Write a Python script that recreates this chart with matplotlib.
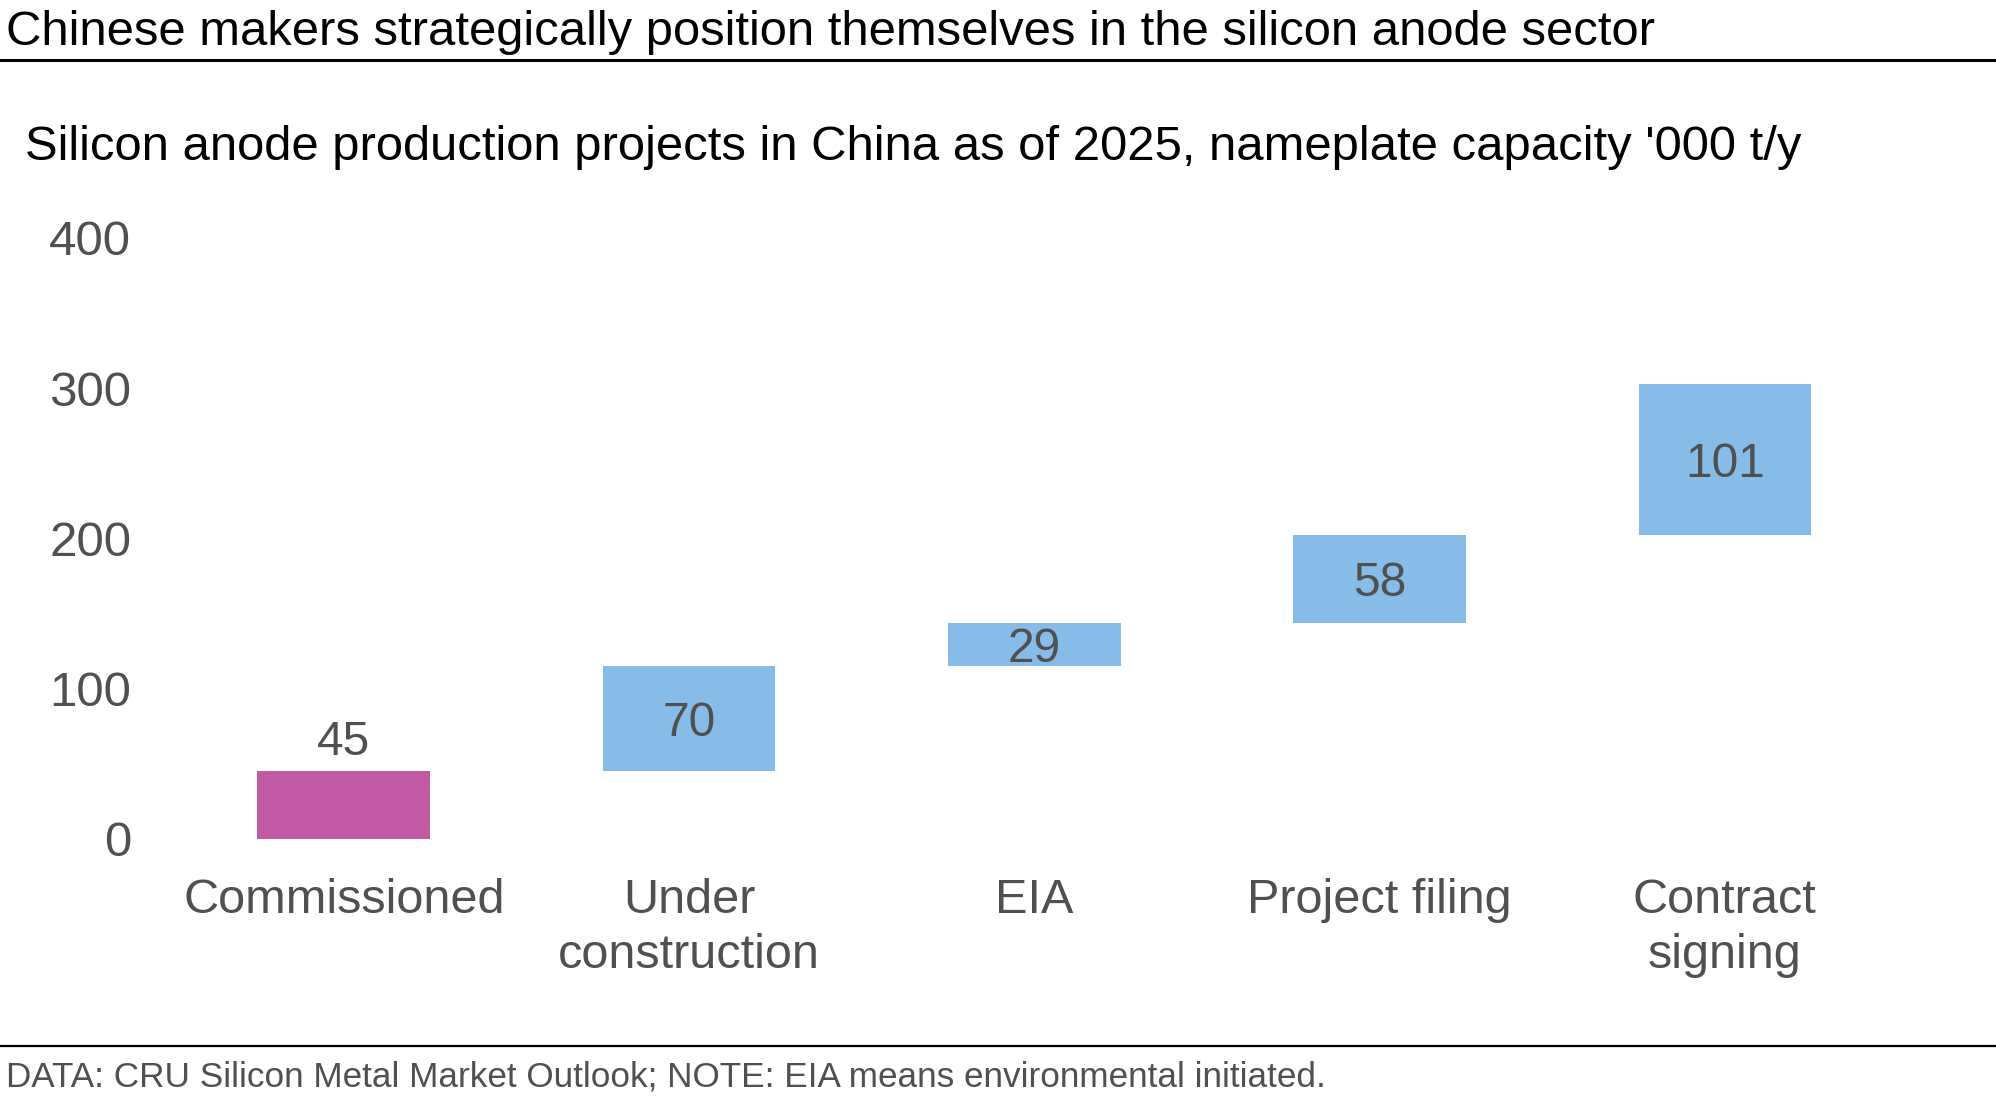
import numpy as np
import matplotlib
matplotlib.use("Agg")
import matplotlib.pyplot as plt

# ----------------------------
#  Datos
# ----------------------------
categorias = ["Commissioned", "Under\nconstruction", "EIA", "Project filing", "Contract\nsigning"]
capacidad = [45, 70, 29, 58, 101]
y_ticks = [0, 100, 200, 300, 400]

titulo = "Chinese makers strategically position themselves in the silicon anode sector"
subtitulo = "Silicon anode production projects in China as of 2025, nameplate capacity '000 t/y"
pie = "DATA: CRU Silicon Metal Market Outlook; NOTE: EIA means environmental initiated."

color_primero = "#BF5AA3"
color_resto = "#87BCE8"
gris_texto = "#505050"

plt.rcParams['font.family'] = ['Liberation Sans', 'DejaVu Sans']

# bases de la cascada
bases = np.concatenate([[0], np.cumsum(capacidad)[:-1]])
x = np.arange(len(categorias))

fig = plt.figure(figsize=(19.96, 10.96), dpi=100)
ax = fig.add_axes([0.0733, 0.2345, 0.8962, 0.5485])

colores = [color_primero] + [color_resto] * (len(categorias) - 1)
ax.bar(x, capacidad, bottom=bases, width=0.5, color=colores, zorder=2)

# etiquetas de valor
for i, (b, v) in enumerate(zip(bases, capacidad)):
    if i == 0:
        ax.text(x[i], b + v + 4, str(v), ha='center', va='bottom',
                fontsize=34.5, color=gris_texto)
    else:
        ax.text(x[i], b + v / 2, str(v), ha='center', va='center_baseline',
                fontsize=34.5, color=gris_texto)

ax.set_xlim(-0.572, 4.609)
ax.set_ylim(0, 400)
ax.set_yticks(y_ticks)
ax.set_xticks(x)
ax.set_xticklabels(categorias, linespacing=1.29)
ax.tick_params(axis='y', length=0, pad=11, labelsize=35.5, labelcolor=gris_texto)
ax.tick_params(axis='x', length=0, pad=28, labelsize=35, labelcolor=gris_texto)
for s in ax.spines.values():
    s.set_visible(False)

# textos y lineas de la figura
fig.text(0.003, 0.9705, titulo, ha='left', va='center', fontsize=35.3, color='black')
fig.text(0.0127, 0.8655, subtitulo, ha='left', va='center', fontsize=35.25, color='black')
fig.text(0.003, 0.0175, pie, ha='left', va='center', fontsize=25.3, color=gris_texto)
fig.add_artist(plt.Line2D([0, 1], [0.945, 0.945], color='black', lw=2.2, transform=fig.transFigure))
fig.add_artist(plt.Line2D([0, 1], [0.0456, 0.0456], color='black', lw=1.6, transform=fig.transFigure))

fig.savefig("out.png", dpi=100)
